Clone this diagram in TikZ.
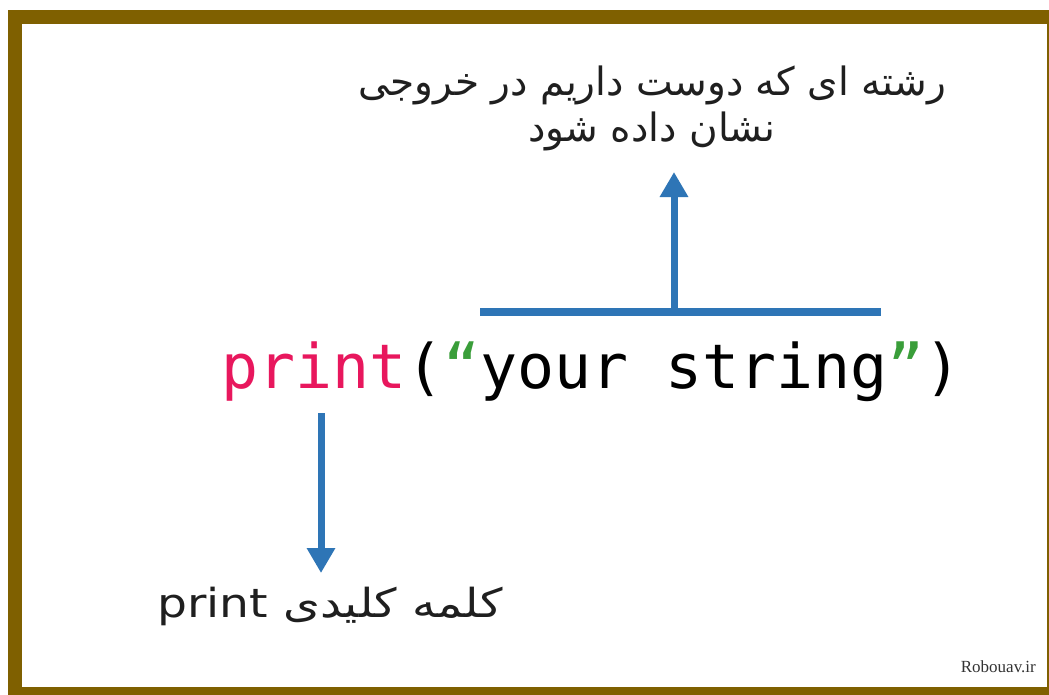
\documentclass[tikz,border=0pt]{standalone}
\usepackage{fontspec}
\usetikzlibrary{arrows.meta}
\setmainfont{Liberation Serif}
\newfontfamily\monofont{DejaVu Sans Mono}
\newfontfamily\fafont[Script=Arabic]{DejaVu Sans}
\TeXXeTstate=1
\definecolor{framegold}{HTML}{7F6000}
\definecolor{arrowblue}{HTML}{2E75B6}
\definecolor{kwpink}{HTML}{E8175D}
\definecolor{strgreen}{HTML}{3A9E3A}
\tikzset{
  pointer/.style={draw=arrowblue, line width=7pt, -{Triangle[length=25pt,width=27pt]}},
  bracketbar/.style={draw=arrowblue, line width=7.5pt},
  fatext/.style={font=\fafont\fontsize{39}{46}\selectfont, text=black!88, align=center, inner sep=0pt},
}
\begin{document}
\begin{tikzpicture}[x=1pt,y=-1pt]
  \useasboundingbox (0,0) rectangle (1049,694);
  \fill[white] (0,0) rectangle (1049,694);
  % frame, partly cut off at the right and bottom
  \begin{scope}
    \clip (0,0) rectangle (1049,694);
    \draw[framegold, line width=14pt] (15,17) rectangle (1054,694);
  \end{scope}

  % code line
  \node[anchor=base west, inner sep=0pt, font=\monofont\fontsize{61.5}{61.5}\selectfont] (code) at (221,388)
    {\textcolor{kwpink}{print}(\textcolor{strgreen}{“}your string\textcolor{strgreen}{”})};

  % bracket over the string and its pointer
  \coordinate (barL) at (480,312);
  \coordinate (barR) at (881,312);
  \coordinate (barM) at (674,312);
  \draw[bracketbar] (barL) -- (barR);

  \node[fatext] (strlabel) at (652,108)
    {\beginR رشته ای که دوست داریم در خروجی\endR\\ \beginR نشان داده شود\endR};
  \coordinate (uptip) at (674,172);
  \draw[pointer] (barM) -- (uptip);

  % keyword pointer
  \coordinate (kwtop) at (321,413);
  \coordinate (kwtip) at (321,573);
  \draw[pointer] (kwtop) -- (kwtip);
  \node[fatext, font=\fafont\fontsize{40}{46}\selectfont, xscale=1.18, anchor=center] (kwlabel) at (330,606)
    {\beginR کلمه کلیدی \beginL print\endL\endR};

  % watermark
  \node[anchor=base east, inner sep=0pt, font=\fontsize{17}{17}\selectfont, text=black!80] (mark) at (1036,672) {Robouav.ir};
\end{tikzpicture}
\end{document}
